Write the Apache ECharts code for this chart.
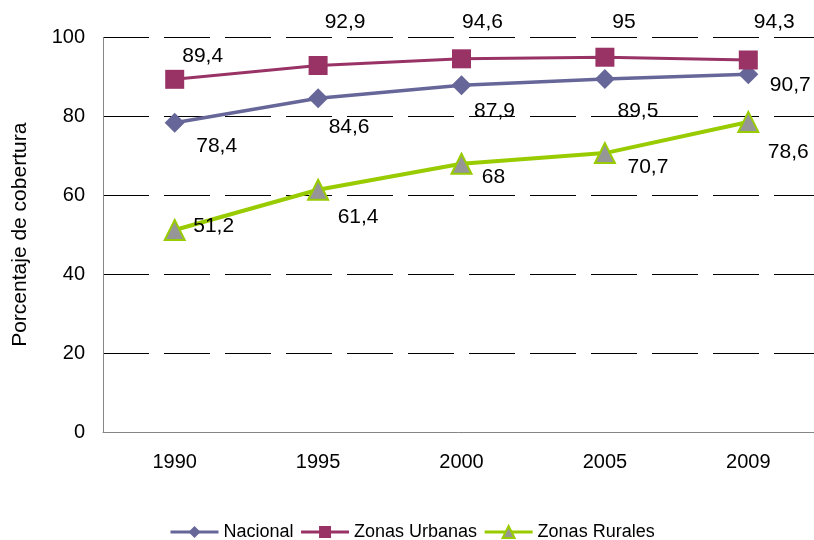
<!DOCTYPE html>
<html>
<head>
<meta charset="utf-8">
<script src="https://cdn.jsdelivr.net/npm/echarts@6/dist/echarts.min.js"></script>
<style>
  html, body { margin: 0; padding: 0; background: #fff; }
  #chart { width: 814px; height: 540px; }
</style>
</head>
<body>
<div id="chart"></div>
<script>
// datos
var years = ['1990', '1995', '2000', '2005', '2009'];
var nacional = [78.4, 84.6, 87.9, 89.5, 90.7];
var urbanas = [89.4, 92.9, 94.6, 95, 94.3];
var rurales = [51.2, 61.4, 68, 70.7, 78.6];

// desplazamiento de etiquetas (como en el original)
var offNac = [[42, 23], [31, 29], [33, 26], [33, 32], [42, 11]];
var offUrb = [[28, -23], [27, -43], [21, -37], [19, -35], [26, -38]];
var offRur = [[39, -4], [40, 27], [32, 13], [43, 14], [40, 30]];

var fmt = function (v) { return String(v).replace('.', ','); };

function withLabels(values, offsets) {
  return values.map(function (v, i) {
    return {
      value: v,
      label: { offset: offsets[i] }
    };
  });
}

var labelStyle = {
  show: true,
  position: 'inside',
  align: 'center',
  verticalAlign: 'middle',
  color: '#000',
  fontFamily: 'Liberation Sans',
  fontSize: 21,
  formatter: function (p) { return fmt(p.value); }
};

var chart = echarts.init(document.getElementById('chart'));
var option = {
  animation: false,
  backgroundColor: '#fff',
  grid: {
    left: 103,
    top: 37.5,
    width: 717,
    height: 394.5,
    containLabel: false,
    outerBoundsMode: 'none'
  },
  legend: {
    left: 164,
    bottom: -6,
    itemWidth: 48,
    itemHeight: 15,
    itemGap: 6,
    lineStyle: { width: 3 },
    textStyle: {
      color: '#000',
      fontFamily: 'Liberation Sans',
      fontSize: 18
    },
    data: ['Nacional', 'Zonas Urbanas', 'Zonas Rurales']
  },
  xAxis: {
    type: 'category',
    data: years,
    boundaryGap: true,
    axisLine: { lineStyle: { color: '#868686', width: 1 } },
    axisTick: { show: false },
    axisLabel: {
      color: '#000',
      fontFamily: 'Liberation Sans',
      fontSize: 20,
      margin: 20
    }
  },
  yAxis: {
    type: 'value',
    min: 0,
    max: 100,
    interval: 20,
    name: 'Porcentaje de cobertura',
    nameLocation: 'middle',
    nameGap: 72,
    nameTextStyle: {
      color: '#000',
      fontFamily: 'Liberation Sans',
      fontSize: 21
    },
    axisLine: { show: true, lineStyle: { color: '#868686', width: 1 } },
    axisTick: { show: false },
    axisLabel: {
      color: '#000',
      fontFamily: 'Liberation Sans',
      fontSize: 20,
      margin: 18
    },
    splitLine: {
      show: true,
      lineStyle: { color: '#000', width: 1, type: [46, 15] }
    }
  },
  series: [
    {
      name: 'Nacional',
      type: 'line',
      symbol: 'diamond',
      symbolSize: 20,
      z: 3,
      itemStyle: { color: '#666699' },
      lineStyle: { color: '#666699', width: 3.5 },
      label: labelStyle,
      data: withLabels(nacional, offNac)
    },
    {
      name: 'Zonas Urbanas',
      type: 'line',
      symbol: 'rect',
      symbolSize: 19,
      z: 3,
      itemStyle: { color: '#993366' },
      lineStyle: { color: '#993366', width: 3 },
      label: labelStyle,
      data: withLabels(urbanas, offUrb)
    },
    {
      name: 'Zonas Rurales',
      type: 'line',
      symbol: 'triangle',
      symbolSize: 20,
      z: 3,
      itemStyle: { color: '#969696', borderColor: '#99cc00', borderWidth: 2 },
      lineStyle: { color: '#99cc00', width: 4 },
      label: labelStyle,
      data: withLabels(rurales, offRur)
    }
  ]
};
chart.setOption(option);
</script>
</body>
</html>
